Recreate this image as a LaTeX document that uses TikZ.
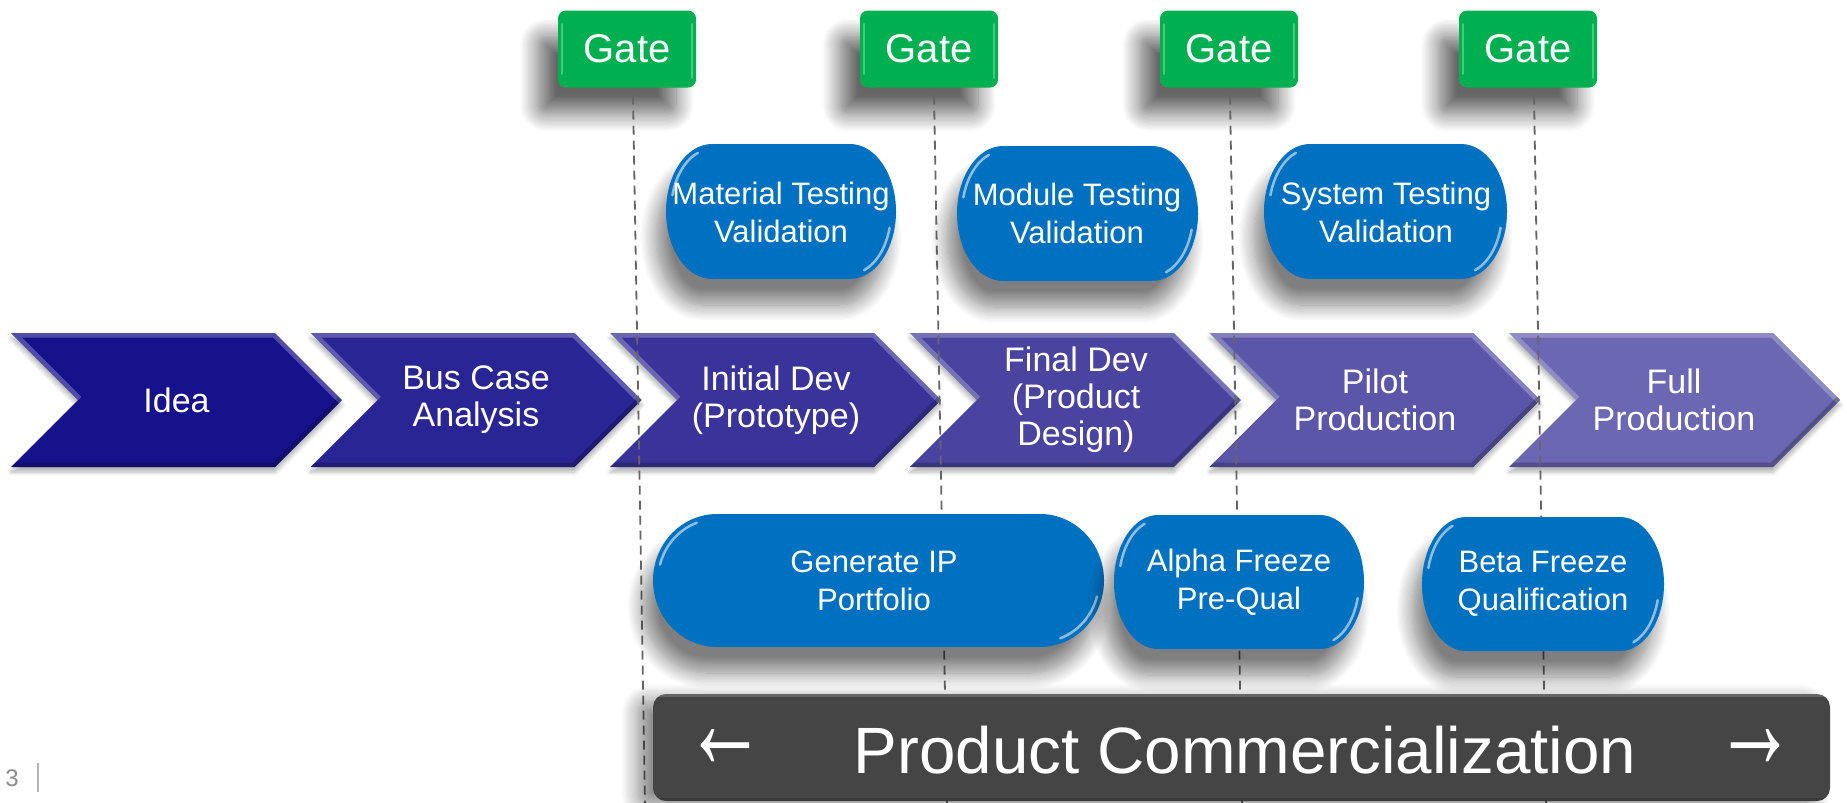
\documentclass[tikz,border=0pt]{standalone}
\usepackage{fontspec}
\usepackage{graphicx}
\setmainfont{Liberation Sans}
\usetikzlibrary{shadows.blur}

\definecolor{gategreen}{RGB}{0,176,80}
\definecolor{gatelight}{RGB}{130,235,170}
\definecolor{boxblue}{RGB}{0,112,192}
\definecolor{bardark}{RGB}{69,69,69}
\definecolor{chevA}{RGB}{22,18,139}
\definecolor{chevB}{RGB}{42,37,148}
\definecolor{chevC}{RGB}{58,52,154}
\definecolor{chevD}{RGB}{74,68,160}
\definecolor{chevE}{RGB}{91,86,168}
\definecolor{chevF}{RGB}{108,103,178}
\definecolor{pagegray}{RGB}{140,140,140}

\tikzset{
  chevbody/.style={blur shadow={shadow xshift=0pt, shadow yshift=-5pt,
      shadow blur radius=4pt, shadow blur steps=6, shadow opacity=30}},
  chevtext/.style={text=white, align=center, inner sep=0pt,
      font=\fontsize{34}{37}\selectfont},
  gatebox/.style={rounded corners=8pt, fill=gategreen, text=white,
      minimum width=138pt, minimum height=77pt, inner sep=0pt,
      font=\fontsize{40}{44}\selectfont,
      blur shadow={shadow xshift=-20pt, shadow yshift=-26pt,
      shadow blur radius=18pt, shadow blur steps=14, shadow opacity=60}},
  gatestrip/.style={draw=gatelight, line width=2.5pt, line cap=round, opacity=.5},
  gateline/.style={draw=black!60, line width=1.8pt, dash pattern=on 9pt off 6pt},
  boxshape/.style={fill=boxblue,
      blur shadow={shadow xshift=-10pt, shadow yshift=-26pt,
      shadow blur radius=16pt, shadow blur steps=14, shadow opacity=50}},
  gloss/.style={draw=white, opacity=.55, line width=2.5pt, line cap=round},
  boxtext/.style={text=white, align=center, inner sep=0pt,
      font=\fontsize{31}{38}\selectfont},
  barbox/.style={fill=bardark, rounded corners=13pt,
      blur shadow={shadow xshift=-16pt, shadow yshift=-6pt,
      shadow blur radius=16pt, shadow blur steps=14, shadow opacity=45}},
  bartext/.style={text=white, inner sep=0pt, font=\fontsize{65.5}{66}\selectfont},
}

% one phase chevron: #1 left edge, #2 fill colour
\newcommand\chevshape[2]{%
  \path[chevbody, fill=#2] (#1,333) -- ++(264,0) -- ++(67,67) -- ++(-67,67)
     -- ++(-264,0) -- ++(67,-67) -- cycle;
  \begin{scope}
    \clip (#1,333) -- ++(264,0) -- ++(67,67) -- ++(-67,67)
       -- ++(-264,0) -- ++(67,-67) -- cycle;
    \draw[line width=9pt, draw=white, opacity=.25]
       (#1,333) ++(67,67) -- ++(-67,-67) -- ++(264,0) -- ++(67,67);
    \draw[line width=9pt, draw=black, opacity=.22]
       (#1,467) ++(331,-67) -- ++(-67,67) -- ++(-264,0);
  \end{scope}
}

% blue activity slab with elliptic ends: x1, y1, x2, y2, end radius
\newcommand\blueslab[5]{%
  \pgfmathsetmacro\slabry{(#4-#2)/2}%
  \path[boxshape] (#1+#5,#2) -- (#3-#5,#2)
     arc[start angle=-90, end angle=90, x radius=#5, y radius=\slabry]
     -- (#1+#5,#4)
     arc[start angle=90, end angle=270, x radius=#5, y radius=\slabry] -- cycle;
  \draw[gloss] (#1+#5,#2+\slabry) ++(195:{#5-5} and {\slabry-5})
     arc[start angle=195, end angle=250, x radius=#5-5, y radius=\slabry-5];
  \draw[gloss] (#3-#5,#2+\slabry) ++(15:{#5-5} and {\slabry-5})
     arc[start angle=15, end angle=70, x radius=#5-5, y radius=\slabry-5];
}

% light side strips of a gate
\newcommand\gatestrips[1]{%
  \draw[gatestrip] ([xshift=4pt, yshift=-14pt]#1.north west) -- ([xshift=4pt, yshift=14pt]#1.south west);
  \draw[gatestrip] ([xshift=-4pt, yshift=-14pt]#1.north east) -- ([xshift=-4pt, yshift=10pt]#1.south east);
}

\begin{document}
\begin{tikzpicture}[x=1pt, y=-1pt]
\useasboundingbox (0,0) rectangle (1847,803);

% phase chevrons
\chevshape{11}{chevA}
\chevshape{310.6}{chevB}
\chevshape{610.2}{chevC}
\chevshape{909.8}{chevD}
\chevshape{1209.4}{chevE}
\chevshape{1509}{chevF}
\node[chevtext] (idea)  at (176.5,400) {Idea};
\node[chevtext] (bus)   at (476,400)   {Bus Case\\Analysis};
\node[chevtext] (init)  at (776,400)   {Initial Dev\\(Prototype)};
\node[chevtext] (final) at (1076,400)  {Final Dev\\(Product\\Design)};
\node[chevtext] (pilot) at (1375,400)  {Pilot\\Production};
\node[chevtext] (full)  at (1674,400)  {Full\\Production};

% gates
\node[gatebox] (g1) at (627,49)  {Gate};
\node[gatebox] (g2) at (929,49)  {Gate};
\node[gatebox] (g3) at (1229,49) {Gate};
\node[gatebox] (g4) at (1528,49) {Gate};
\gatestrips{g1}
\gatestrips{g2}
\gatestrips{g3}
\gatestrips{g4}

% gate lines
\coordinate (e1) at (645,803);
\coordinate (e2) at (947,803);
\coordinate (e3) at (1242,803);
\coordinate (e4) at (1546,803);
\draw[gateline] (g1.south) ++(6,8) -- (e1);
\draw[gateline] (g2.south) ++(5,8) -- (e2);
\draw[gateline] (g3.south) ++(1,8) -- (e3);
\draw[gateline] (g4.south) ++(6,8) -- (e4);

% testing activities
\blueslab{666}{144}{896}{279}{46}
\node[boxtext] (mat) at (781,212) {Material Testing\\Validation};
\blueslab{957}{146}{1198}{281}{46}
\node[boxtext] (mod) at (1077,213) {Module Testing\\Validation};
\blueslab{1264}{144}{1507}{279}{46}
\node[boxtext] (sys) at (1386,212) {System Testing\\Validation};

% freeze activities
\blueslab{653}{514}{1104}{647}{64}
\node[boxtext] (gen) at (874,581) {Generate IP\\Portfolio};
\blueslab{1114}{515}{1364}{649}{44}
\node[boxtext] (alpha) at (1239,582) {Alpha Freeze\\Pre-Qual};
\blueslab{1422}{517}{1664}{651}{44}
\node[boxtext] (beta) at (1543,584) {Beta Freeze\\Qualification};

% commercialization band
\path[barbox] (653,694) rectangle (1830,801);
\begin{scope}
  \clip[rounded corners=13pt] (653,694) rectangle (1830,801);
  \draw[line width=6pt, draw=white, opacity=.18] (653,694) -- (1830,694);
  \draw[line width=6pt, draw=black, opacity=.15] (653,801) -- (1830,801);
\end{scope}
\node[bartext] (comm) at (1245,750) {Product Commercialization};
\node[bartext] (larr) at (725,749) {\scalebox{1.25}[2.1]{←}};
\node[bartext] (rarr) at (1755,749) {\scalebox{1.25}[2.1]{→}};

% page number
\node[text=pagegray, inner sep=0pt, font=\fontsize{24}{24}\selectfont] (page) at (12,778) {3};
\draw[draw=black!30, line width=1.5pt] (38,763) -- (38,792);
\end{tikzpicture}
\end{document}
